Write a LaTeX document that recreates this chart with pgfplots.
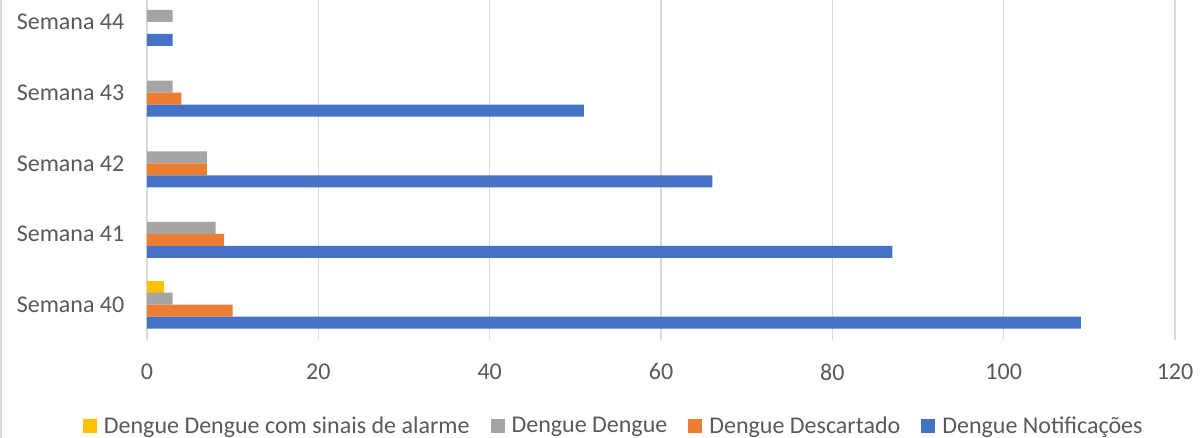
\documentclass[border=0pt]{standalone}
\usepackage{fontspec}
\setmainfont{Carlito}
\usepackage{pgfplots}
\pgfplotsset{compat=1.18}
\definecolor{cblue}{HTML}{4472C4}
\definecolor{corange}{HTML}{ED7D31}
\definecolor{cgray}{HTML}{A5A5A5}
\definecolor{cyellow}{HTML}{FFC000}
\definecolor{gridgray}{HTML}{D9D9D9}
\definecolor{txt}{HTML}{595959}
\begin{document}
\begin{tikzpicture}
\begin{axis}[
  at={(73.5pt,49pt)}, anchor=south west,
  scale only axis, width=514pt, height=170pt,
  xbar, bar width=6pt,
  xmin=0, xmax=120, ymin=-0.5, ymax=4.311,
  xtick={0,20,...,120},
  ytick={0,1,2,3,4},
  yticklabels={Semana 40,Semana 41,Semana 42,Semana 43,Semana 44},
  axis line style={draw=none},
  major tick length=0pt,
  xmajorgrids, ymajorgrids=false,
  grid style={color=gridgray, line width=0.75pt},
  tick label style={font=\fontsize{12}{14}\selectfont, text=txt},
  /pgf/number format/assume math mode=true,
  xticklabel style={yshift=-8.3pt},
  yticklabel style={xshift=-7.8pt},
  legend columns=4,
  legend style={at={(0.455,-0.2544)}, anchor=center, draw=none, fill=none,
    font=\fontsize{12}{14}\selectfont, text=txt,
    /tikz/every odd column/.append style={column sep=1.5pt},
    /tikz/every even column/.append style={column sep=8.5pt}},
  legend image code/.code={\fill[#1] (0pt,-3.5pt) rectangle (7pt,3.5pt);},
  clip=false,
]
\addplot[fill=cyellow, draw=none, bar shift=9pt] coordinates {(2,0)};
\addlegendentry{Dengue Dengue com sinais de alarme}
\addplot[fill=cgray, draw=none, bar shift=3pt] coordinates {(3,0) (8,1) (7,2) (3,3) (3,4)};
\addlegendentry{Dengue Dengue}
\addplot[fill=corange, draw=none, bar shift=-3pt] coordinates {(10,0) (9,1) (7,2) (4,3)};
\addlegendentry{Dengue Descartado}
\addplot[fill=cblue, draw=none, bar shift=-9pt] coordinates {(109,0) (87,1) (66,2) (51,3) (3,4)};
\addlegendentry{Dengue Notificações}
\end{axis}
\draw[color=gridgray, line width=0.75pt] (0.375pt,0pt) -- (0.375pt,219pt);
\pgfresetboundingbox
\path (0pt,0pt) rectangle (600.5pt,219pt);
\end{tikzpicture}
\end{document}
